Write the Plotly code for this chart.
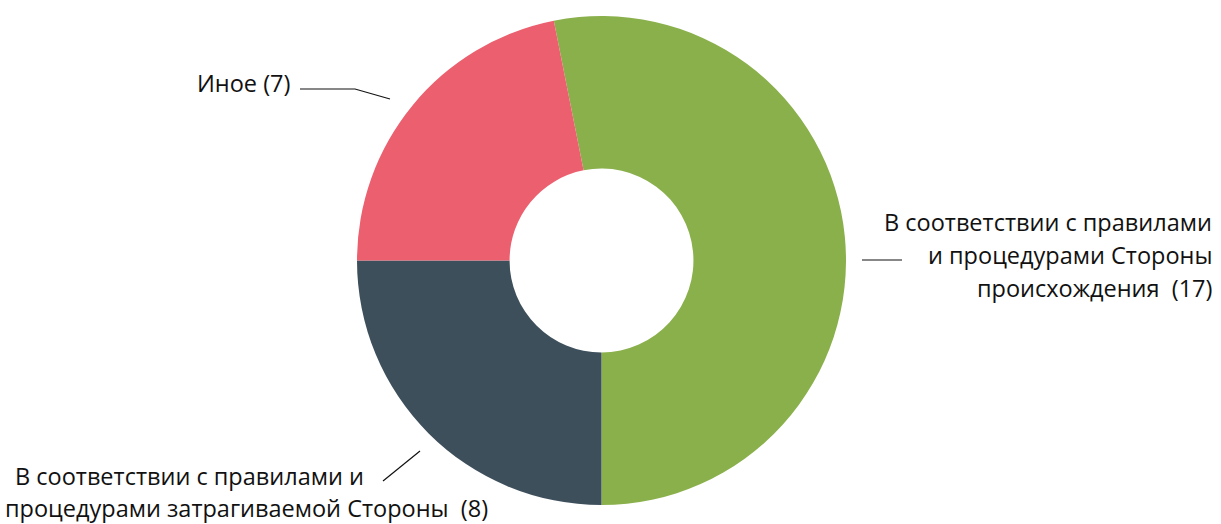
import plotly.graph_objects as go

labels = [
    "В соответствии с правилами и процедурами Стороны происхождения",
    "В соответствии с правилами и процедурами затрагиваемой Стороны",
    "Иное",
]
values = [17, 8, 7]
colors = ["#8AB04C", "#3E4F5C", "#EC5F6E"]

W, H = 1221, 524
FONT = "Open Sans"
FS = 23.5

fig = go.Figure(go.Pie(
    labels=labels,
    values=values,
    marker=dict(colors=colors, line=dict(width=0)),
    hole=0.376,
    sort=False,
    direction="clockwise",
    rotation=-11.25,
    textinfo="none",
    hoverinfo="label+value",
    domain=dict(x=[357 / W, 846 / W], y=[(H - 505) / H, (H - 16) / H]),
    showlegend=False,
))

def px(x, y):
    return x / W, 1 - y / H

annotations = []
def ann(text, x, y, xanchor):
    ax, ay = px(x, y)
    annotations.append(dict(text=text, x=ax, y=ay, xref="paper", yref="paper",
                            xanchor=xanchor, yanchor="middle", align=xanchor,
                            showarrow=False,
                            font=dict(family=FONT, size=FS, color="#111111")))

ann(f"Иное ({values[2]})", 292, 83, "right")
ann("В соответствии с правилами", 1214, 222, "right")
ann("и процедурами Стороны", 1214, 255, "right")
ann("происхождения  (" + str(values[0]) + ")", 1214, 288, "right")
ann("В соответствии с правилами и", 13, 476, "left")
ann("процедурами затрагиваемой Стороны  (" + str(values[1]) + ")", 3, 508, "left")

shapes = []
def line(points):
    path = "M " + " L ".join(f"{x / W},{1 - y / H}" for x, y in points)
    shapes.append(dict(type="path", path=path, xref="paper", yref="paper",
                       line=dict(color="#111111", width=1.2)))

line([(300, 89), (355, 89), (390, 99)])
line([(862, 260), (902, 260)])
line([(383, 481), (420, 451)])

fig.update_layout(
    width=W, height=H,
    margin=dict(l=0, r=0, t=0, b=0),
    paper_bgcolor="white",
    plot_bgcolor="white",
    annotations=annotations,
    shapes=shapes,
)

fig.write_html("out.html",
               config={"displayModeBar": False},
               post_script="document.body.style.margin='0';document.body.style.overflow='hidden';")
